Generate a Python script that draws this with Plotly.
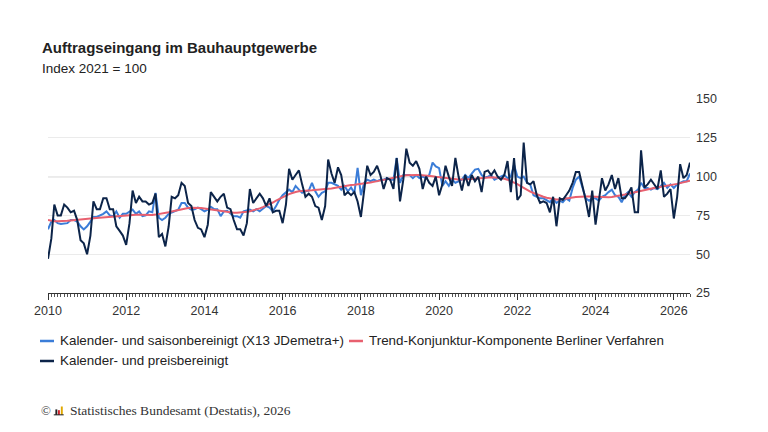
import plotly.graph_objects as go
import pandas as pd

months = pd.date_range("2010-01-01", "2026-06-01", freq="MS")

preis = [
    47, 60, 82, 75, 75, 82, 80, 77, 78, 72, 59, 57,
    50, 62, 84, 79, 79, 86, 86, 79, 79, 68, 65, 62,
    56, 70, 91, 83, 87, 84, 84, 82, 83, 89, 61, 63,
    55, 68, 87, 86, 88, 96, 94, 83, 81, 72, 67, 66,
    61, 69, 90, 87, 84, 87, 89, 80, 79, 72, 66, 66,
    62, 70, 92, 83, 86, 89, 86, 81, 86, 77, 78, 78,
    70, 82, 105, 98, 101, 104, 95, 87, 89, 87, 81, 80,
    72, 81, 111, 102, 96, 106, 101, 88, 90, 88, 90, 84,
    74, 92, 107, 101, 103, 107, 101, 92, 99, 98, 92, 112,
    84, 98, 118, 109, 107, 110, 105, 92, 100, 96, 94, 100,
    88, 95, 107, 100, 94, 112, 100, 91, 101, 94, 101, 97,
    100, 90, 103, 104, 101, 104, 100, 98, 101, 110, 90, 112,
    85, 88, 122, 96, 95, 97, 88, 83, 84, 83, 77, 87,
    68, 86, 85, 88, 91, 96, 103, 103, 94, 85, 74, 91,
    69, 83, 99, 91, 95, 101, 92, 99, 86, 86, 89, 93,
    77, 77, 117, 93, 95, 98, 95, 92, 104, 87, 89, 92,
    73, 87, 108, 99, 101, 109,
]

saison = [
    66, 71, 72, 70, 69.5, 70, 70, 72, 72, 71, 68, 66,
    68, 71, 74, 74, 75, 76, 77.6, 75, 74.5, 77.6, 73.5, 76,
    76, 77.6, 78.7, 76, 77.6, 74.5, 75, 77.6, 77, 89.5, 73.5, 72,
    73.5, 76, 77, 77.6, 78.7, 83, 83, 80, 78.7, 79, 80, 79,
    77.6, 78.7, 80.5, 79, 79, 74.5, 77.6, 78, 76, 74.5, 74.5, 73.5,
    77.6, 78, 78.7, 77.6, 79, 77.6, 79, 81, 80, 77.6, 81, 85,
    88, 90, 91.6, 90, 94, 91.6, 89.5, 90.5, 91, 96, 90.5, 87,
    89.5, 90.5, 96, 96, 95, 94, 91.6, 94, 90.5, 93, 89.5, 105.6,
    88, 96, 98, 97, 98, 97, 98, 98, 99, 98, 98, 112,
    96, 101, 101, 101, 99, 101, 99, 100, 99, 101, 109, 106.6,
    105.5, 94, 97, 94, 98, 96, 97, 98, 101, 99, 102, 104.5,
    105, 101, 99.5, 100, 101, 98, 99, 100, 101, 99, 100, 107.7,
    100, 99, 100, 96, 95, 88, 87, 86, 86, 84.5, 83.5, 86,
    83, 84.5, 83.5, 86, 84.5, 92.7, 98, 100, 92.7, 86, 84.5, 86,
    86, 84.5, 87, 88, 90, 91.6, 88, 87, 83.5, 88, 90, 87,
    90, 91.6, 96, 92.7, 92.7, 91.6, 92.7, 92, 94, 96, 92.7, 95,
    92.7, 95, 96, 97, 97, 102,
]

trend = [
    72, 71.5, 71.3, 71.2, 71.2, 71.3, 71.5, 71.7, 72, 72.2, 72.4, 72.6,
    72.8, 73, 73.2, 73.4, 73.6, 73.8, 74, 74.2, 74.4, 74.6, 74.8, 75,
    75.2, 75.3, 75.4, 75.4, 75.4, 75.3, 75.2, 75.2, 75.3, 75.5, 75.8, 76.2,
    76.6, 77, 77.5, 78, 78.5, 79, 79.4, 79.7, 79.9, 80, 80, 79.8,
    79.5, 79.2, 78.8, 78.4, 78, 77.6, 77.3, 77, 76.8, 76.7, 76.7, 76.8,
    77, 77.3, 77.7, 78.2, 78.8, 79.5, 80.3, 81.2, 82.2, 83.3, 84.5, 85.7,
    86.8, 87.8, 88.7, 89.5, 90.1, 90.5, 90.8, 91, 91.1, 91.2, 91.3, 91.4,
    91.6, 91.8, 92.1, 92.4, 92.8, 93.2, 93.6, 94, 94.3, 94.6, 94.8, 95,
    95.2, 95.5, 95.8, 96.2, 96.6, 97.1, 97.6, 98.1, 98.6, 99.1, 99.6, 100,
    100.3, 100.6, 100.8, 101, 101.1, 101.1, 101, 100.9, 100.7, 100.5, 100.2, 99.9,
    99.6, 99.3, 99, 98.7, 98.5, 98.3, 98.2, 98.1, 98.1, 98.2, 98.4, 98.6,
    98.9, 99.2, 99.4, 99.6, 99.6, 99.5, 99.3, 99, 98.6, 98, 97.2, 96.2,
    95.1, 93.9, 92.7, 91.5, 90.4, 89.4, 88.5, 87.7, 87, 86.4, 85.9, 85.5,
    85.3, 85.3, 85.5, 85.8, 86.2, 86.6, 86.9, 87.1, 87.2, 87.2, 87.1, 87,
    86.8, 86.7, 86.6, 86.6, 86.7, 86.9, 87.2, 87.6, 88, 88.5, 89, 89.5,
    90, 90.5, 91, 91.5, 92, 92.4, 92.8, 93.1, 93.4, 93.7, 94, 94.3,
    94.8, 95.3, 95.8, 96.3, 96.8, 97.3,
]

y_ticks = [25, 50, 75, 100, 125, 150]

name_saison = "Kalender- und saisonbereinigt (X13 JDemetra+)"
name_trend = "Trend-Konjunktur-Komponente Berliner Verfahren"
name_preis = "Kalender- und preisbereinigt"

FONT = "Liberation Sans, Arial, sans-serif"
SERIF = "Liberation Serif, Times New Roman, serif"
C_SAISON = "#3b7dd8"
C_TREND = "#e8606f"
C_PREIS = "#0c2449"

fig = go.Figure()
fig.add_trace(go.Scatter(x=months, y=saison, name=name_saison, mode="lines",
                         line=dict(color=C_SAISON, width=2)))
fig.add_trace(go.Scatter(x=months, y=trend, name=name_trend, mode="lines",
                         line=dict(color=C_TREND, width=2)))
fig.add_trace(go.Scatter(x=months, y=preis, name=name_preis, mode="lines",
                         line=dict(color=C_PREIS, width=2)))

fig.add_hline(y=100, line=dict(color="#444444", width=1), layer="below")

fig.update_layout(
    width=768, height=432,
    margin=dict(l=40, r=86, t=91, b=147),
    paper_bgcolor="white", plot_bgcolor="white",
    font=dict(family=FONT, size=12, color="#333333"),
    showlegend=False,
    hovermode=False,
)

fig.update_xaxes(
    type="date",
    range=["2010-01-01", "2026-06-01"],
    tickformat="%Y", dtick="M24", tick0="2010-01-01",
    ticks="outside", ticklen=6, tickcolor="#333333", tickwidth=1,
    showline=True, linecolor="#333333", linewidth=1,
    showgrid=False, zeroline=False,
    tickfont=dict(family=FONT, size=12.5, color="#333333"),
    minor=dict(dtick="M1", tick0="2010-01-01", ticks="outside", ticklen=3,
               tickcolor="#555555", showgrid=False),
)

fig.update_yaxes(
    range=[25, 150], tickvals=y_ticks, side="right",
    showgrid=True, gridcolor="#ebebeb", gridwidth=1,
    zeroline=False, showline=False, ticks="",
    ticklabelstandoff=5,
    tickfont=dict(family=FONT, size=12.5, color="#333333"),
)

# legend (drawn as short line keys + text)
legend_items = [
    (name_saison, C_SAISON, -0.01246, -0.2474),
    (name_trend, C_TREND, 0.4688, -0.2474),
    (name_preis, C_PREIS, -0.01246, -0.3505),
]
for label, color, lx, ly in legend_items:
    fig.add_shape(type="line", xref="paper", yref="paper", x0=lx, x1=lx + 0.0218,
                  y0=ly, y1=ly, line=dict(color=color, width=2.5))
    fig.add_annotation(text=label, xref="paper", yref="paper", x=lx + 0.0283, y=ly,
                       xanchor="left", yanchor="middle", showarrow=False,
                       font=dict(family=FONT, size=13.4, color="#222222"))

fig.add_annotation(text="<b>Auftragseingang im Bauhauptgewerbe</b>",
                   xref="paper", yref="paper", x=-0.0125, y=1.268,
                   xanchor="left", yanchor="middle", showarrow=False,
                   font=dict(family=FONT, size=15, color="#222222"))
fig.add_annotation(text="Index 2021 = 100",
                   xref="paper", yref="paper", x=-0.0125, y=1.155,
                   xanchor="left", yanchor="middle", showarrow=False,
                   font=dict(family=FONT, size=13.5, color="#222222"))
fig.add_annotation(text="©",
                   xref="paper", yref="paper", x=-0.0145, y=-0.608,
                   xanchor="left", yanchor="middle", showarrow=False,
                   font=dict(family=SERIF, size=13, color="#333333"))
fig.add_annotation(text="Statistisches Bundesamt (Destatis), 2026",
                   xref="paper", yref="paper", x=0.031, y=-0.608,
                   xanchor="left", yanchor="middle", showarrow=False,
                   font=dict(family=SERIF, size=13.5, color="#333333"))

# small Destatis logo bars (decoration)
logo = [(0.0115, 0.0145, -0.628, -0.600, "#222222"),
        (0.0155, 0.0185, -0.628, -0.604, "#d0202a"),
        (0.0200, 0.0230, -0.628, -0.585, "#e0a800")]
for x0, x1, y0, y1, c in logo:
    fig.add_shape(type="rect", xref="paper", yref="paper", x0=x0, x1=x1, y0=y0, y1=y1,
                  fillcolor=c, line=dict(width=0))
fig.add_shape(type="line", xref="paper", yref="paper", x0=0.009, x1=0.0245,
              y0=-0.628, y1=-0.628, line=dict(color="#222222", width=1))

fig.write_html("out.html")
